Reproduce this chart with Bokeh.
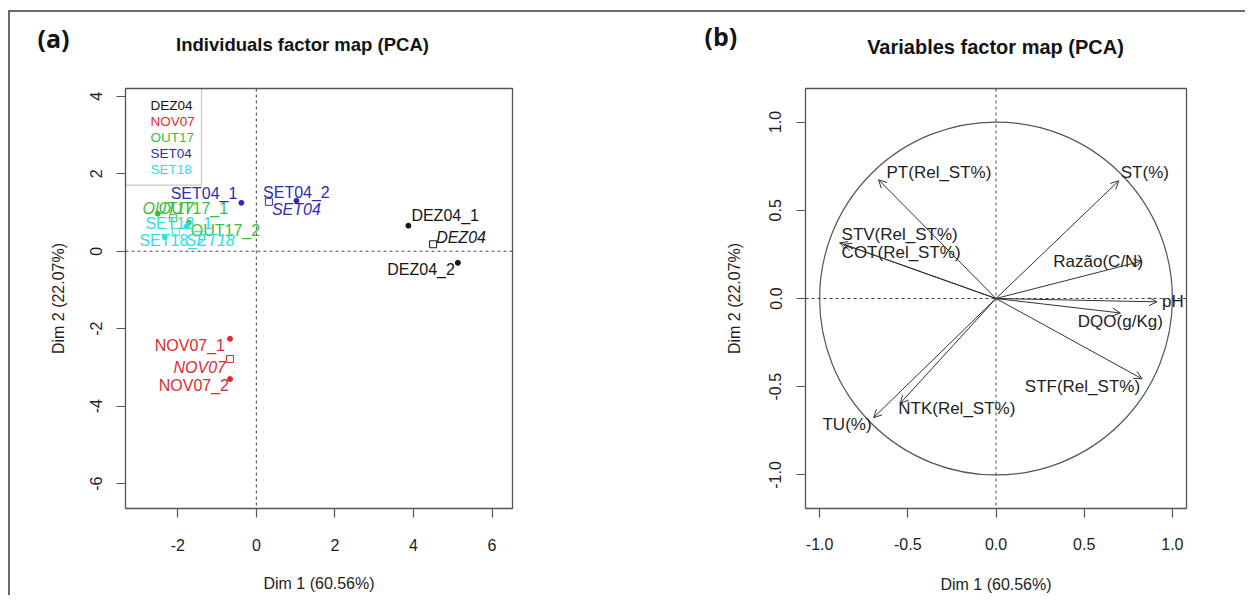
import numpy as np
from bokeh.plotting import figure
from bokeh.models import (ColumnDataSource, Range1d, FixedTicker, PrintfTickFormatter,
                          Span, Arrow, OpenHead, Label, BoxAnnotation)
from bokeh.layouts import row
from bokeh.embed import file_html
from bokeh.resources import INLINE
from bokeh.core.properties import value

# ---------------- data: individuals (panel a) ----------------
ind_names = ["DEZ04_1", "DEZ04_2", "NOV07_1", "NOV07_2", "OUT17_1", "OUT17_2",
             "SET04_1", "SET04_2", "SET18_1", "SET18_2"]
ind_group = ["DEZ04", "DEZ04", "NOV07", "NOV07", "OUT17", "OUT17",
             "SET04", "SET04", "SET18", "SET18"]
ind_dim1 = [3.87, 5.13, -0.67, -0.67, -2.51, -1.72, -0.38, 1.02, -1.77, -2.33]
ind_dim2 = [0.66, -0.30, -2.26, -3.30, 0.97, 0.74, 1.25, 1.30, 0.64, 0.36]
groups = ["DEZ04", "NOV07", "OUT17", "SET04", "SET18"]
group_colors = ["#151515", "#df2a31", "#3dbd3d", "#2f2bb5", "#30dde3"]
ind_ticks_x = [-2, 0, 2, 4, 6]
ind_ticks_y = [-6, -4, -2, 0, 2, 4]

# ---------------- data: variables (panel b) ----------------
var_names = ["ST(%)", "TU(%)", "STV(Rel_ST%)", "STF(Rel_ST%)", "COT(Rel_ST%)",
             "NTK(Rel_ST%)", "PT(Rel_ST%)", "Razão(C/N)", "DQO(g/Kg)", "pH"]
var_dim1 = [0.696, -0.694, -0.887, 0.828, -0.864, -0.543, -0.666, 0.828, 0.705, 0.913]
var_dim2 = [0.667, -0.675, 0.316, -0.455, 0.307, -0.594, 0.673, 0.212, -0.082, -0.019]
var_ticks = [-1.0, -0.5, 0.0, 0.5, 1.0]

title_a = "Individuals factor map (PCA)"
title_b = "Variables factor map (PCA)"
xlab = "Dim 1 (60.56%)"
ylab = "Dim 2 (22.07%)"

FONT = "Liberation Sans"
TXT = "#1e1e1e"
GREY = "#555555"

# ---------------- layout constants ----------------
XA = (-3.33, 6.52); YA = (-6.64, 4.20)
XB = (-1.08, 1.08); YB = (-1.19, 1.19)
W1, W2, H = 680, 555, 583
A_BORDER = dict(left=115, right=178, top=74, bottom=83)
B_BORDER = dict(left=115, right=59, top=76, bottom=87)


def make_fig(width, xr, yr, b, st):
    p = figure(width=width, height=H, x_range=Range1d(*xr), y_range=Range1d(*yr),
               output_backend="svg", toolbar_location=None, title=None,
               min_border_left=b["left"], min_border_right=b["right"],
               min_border_top=b["top"], min_border_bottom=b["bottom"],
               background_fill_color="white", border_fill_color="white")
    p.xgrid.visible = False
    p.ygrid.visible = False
    p.outline_line_color = GREY
    p.outline_line_width = 1.3
    p.outline_line_alpha = 1
    p.xaxis.axis_label = xlab
    p.yaxis.axis_label = ylab
    for ax in (p.xaxis[0], p.yaxis[0]):
        ax.axis_line_color = None
        ax.major_tick_line_color = GREY
        ax.major_tick_line_width = 1.2
        ax.major_tick_in = 0
        ax.major_tick_out = 9
        ax.minor_tick_line_color = None
        ax.major_label_text_font = FONT
        ax.major_label_text_font_size = "16px"
        ax.major_label_text_color = TXT
        ax.axis_label_text_font = FONT
        ax.axis_label_text_font_style = "normal"
        ax.axis_label_text_font_size = "16px"
        ax.axis_label_text_color = TXT
    p.xaxis[0].major_label_standoff = st[0]
    p.xaxis[0].axis_label_standoff = st[1]
    p.yaxis[0].major_label_standoff = st[2]
    p.yaxis[0].axis_label_standoff = st[3]
    p.yaxis[0].major_label_orientation = "parallel"
    for dim in ("width", "height"):
        p.add_layout(Span(location=0, dimension=dim, line_dash="3 3",
                          line_color="#444444", line_width=1))
    return p


def scales(width, xr, yr, b):
    fw = width - b["left"] - b["right"]
    fh = H - b["top"] - b["bottom"]
    return fw / (xr[1] - xr[0]), fh / (yr[1] - yr[0])


def place(xs, ys, offs, sx, sy):
    lx = [x + o[1] / sx for x, o in zip(xs, offs)]
    ly = [y - o[2] / sy for y, o in zip(ys, offs)]
    al = [o[0] for o in offs]
    return lx, ly, al


def head_text(p, x, y, text, font, size, align):
    p.add_layout(Label(x=x, y=y, text=text, text_font=font, text_font_style="bold",
                       text_font_size=size, text_color="#141414", text_align=align,
                       text_baseline="middle"), "above")


# ================= panel (a) =================
p1 = make_fig(W1, XA, YA, A_BORDER, (21, 21, 14, 21))
p1.xaxis.ticker = FixedTicker(ticks=ind_ticks_x)
p1.yaxis.ticker = FixedTicker(ticks=ind_ticks_y)
p1.xaxis.formatter = PrintfTickFormatter(format="%d")
p1.yaxis.formatter = PrintfTickFormatter(format="%d")
sxa, sya = scales(W1, XA, YA, A_BORDER)

cmap = dict(zip(groups, group_colors))
ind_col = [cmap[g] for g in ind_group]

# group barycentres (supplementary qualitative categories)
cen_x = [float(np.mean([x for x, g in zip(ind_dim1, ind_group) if g == k])) for k in groups]
cen_y = [float(np.mean([y for y, g in zip(ind_dim2, ind_group) if g == k])) for k in groups]

# label placement (align, dx px, dy px; dy > 0 = downward)
ind_lab_pos = [("left", 3, -10), ("right", -3, 7), ("right", -5, 7), ("right", -1, 6),
               ("left", 1, -5), ("left", 2, 8), ("right", -4, -9), ("center", 0, -8),
               ("center", -8, -3), ("center", 8, 3)]
cen_lab_pos = [("left", 3, -7), ("right", -4, 9), ("center", -5, -10),
               ("left", 3, 8), ("left", 10, 9)]

src_ind = ColumnDataSource(dict(x=ind_dim1, y=ind_dim2, c=ind_col, name=ind_names))
p1.scatter("x", "y", source=src_ind, size=5, marker="circle",
           fill_color="c", line_color="c")
src_cen = ColumnDataSource(dict(x=cen_x, y=cen_y, c=group_colors, name=groups))
p1.scatter("x", "y", source=src_cen, size=7, marker="square",
           fill_color=None, line_color="c", line_width=1)

lx, ly, al = place(ind_dim1, ind_dim2, ind_lab_pos, sxa, sya)
p1.text(x=lx, y=ly, text=ind_names, text_color=ind_col, text_align=al,
        text_baseline="middle", text_font=value(FONT), text_font_size="16px")
lx, ly, al = place(cen_x, cen_y, cen_lab_pos, sxa, sya)
p1.text(x=lx, y=ly, text=groups, text_color=group_colors, text_align=al,
        text_baseline="middle", text_font=value(FONT), text_font_size="16px",
        text_font_style="italic")

# legend (top-left, text only)
leg_w, leg_h = 76, 98
p1.add_layout(BoxAnnotation(left=XA[0], right=XA[0] + leg_w / sxa,
                            top=YA[1], bottom=YA[1] - leg_h / sya,
                            fill_alpha=0, line_color="#444444", line_width=1.2))
leg_x = [XA[0] + 25 / sxa] * len(groups)
leg_y = [YA[1] - (17.5 + 16.1 * i) / sya for i in range(len(groups))]
p1.text(x=leg_x, y=leg_y, text=groups, text_color=group_colors, text_align="left",
        text_baseline="middle", text_font=value(FONT), text_font_size="13.5px")

head_text(p1, XA[0] + (302 - 125) / sxa, YA[1] + (86 - 41) / sya, title_a, FONT, "18.5px", "center")
head_text(p1, XA[0] + (37 - 125) / sxa, YA[1] + (86 - 35) / sya, "(a)", "Open Sans", "25px", "left")

# ================= panel (b) =================
p2 = make_fig(W2, XB, YB, B_BORDER, (20, 23, 15, 24))
p2.xaxis.ticker = FixedTicker(ticks=var_ticks)
p2.yaxis.ticker = FixedTicker(ticks=var_ticks)
p2.xaxis.formatter = PrintfTickFormatter(format="%.1f")
p2.yaxis.formatter = PrintfTickFormatter(format="%.1f")
sxb, syb = scales(W2, XB, YB, B_BORDER)

p2.ellipse(x=[0], y=[0], width=[2], height=[2], fill_color=None,
           line_color="#555555", line_width=1.2)

n = len(var_names)
src_var = ColumnDataSource(dict(x0=[0] * n, y0=[0] * n, x1=var_dim1, y1=var_dim2))
p2.add_layout(Arrow(end=OpenHead(size=8, line_color="#333333", line_width=1),
                    source=src_var, x_start="x0", y_start="y0", x_end="x1", y_end="y1",
                    line_color="#333333", line_width=1))

var_lab_pos = [("left", 2, -8), ("right", -2, 7), ("left", 2, -8), ("right", -2, 8),
               ("left", -2, 8), ("left", -2, 5), ("left", 8, -7), ("right", 1, 0),
               ("center", 0, 9), ("left", 5, 0)]
lx, ly, al = place(var_dim1, var_dim2, var_lab_pos, sxb, syb)
p2.text(x=lx, y=ly, text=var_names, text_color=TXT, text_align=al,
        text_baseline="middle", text_font=value(FONT), text_font_size="17px")

head_text(p2, XB[0] + (995 - 805) / sxb, YB[1] + (88 - 46) / syb, title_b, FONT, "20px", "center")
head_text(p2, XB[0] + (704 - 805) / sxb, YB[1] + (88 - 35) / syb, "(b)", "Open Sans", "25px", "left")

layout = row(p1, p2, margin=(10, 0, 0, 8),
             styles={"border-top": "2px solid #6a6a6a", "border-left": "2px solid #6a6a6a"})

open("out.html", "w").write(file_html(layout, INLINE))
